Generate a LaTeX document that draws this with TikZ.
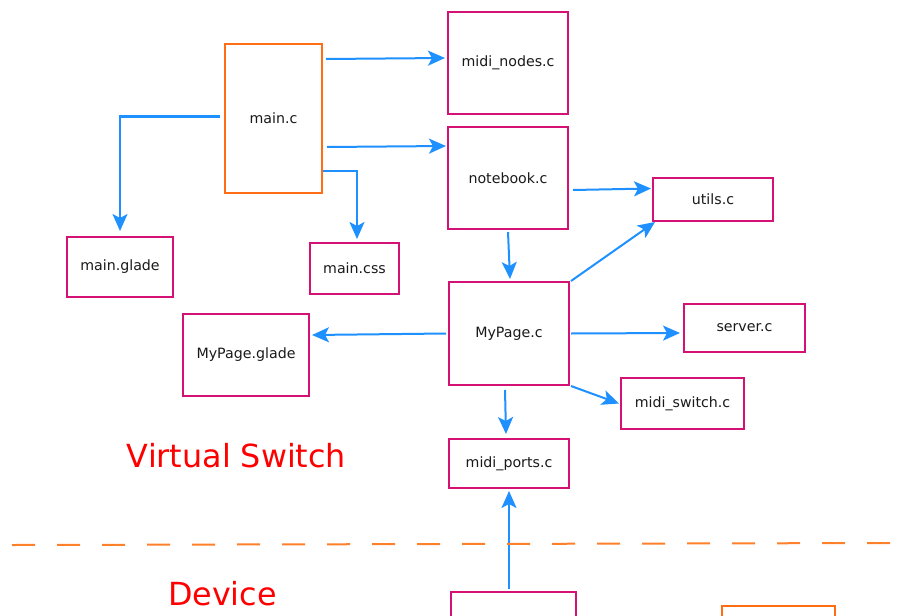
\documentclass[tikz,border=0pt]{standalone}
\usepackage{fontspec}
\setmainfont{DejaVu Sans}
\usetikzlibrary{arrows.meta, positioning, calc}
\definecolor{filepink}{RGB}{212,17,117}
\definecolor{srcorange}{RGB}{255,110,20}
\definecolor{linkblue}{RGB}{30,144,255}
\definecolor{splitorange}{RGB}{255,128,42}
\tikzset{
    file/.style={draw=filepink, line width=2pt, text=black!90,
        font=\fontsize{14.2}{17}\selectfont, inner sep=0pt},
    mainfile/.style={file, draw=srcorange},
    link/.style={draw=linkblue, line width=2pt,
        -{Stealth[length=17pt, width=15pt, inset=4pt]}},
    region/.style={text=red, font=\fontsize{31.8}{38}\selectfont, anchor=base},
    split/.style={draw=splitorange, line width=2pt, dash pattern=on 23pt off 22pt},
}

\begin{document}
\begin{tikzpicture}[x=1pt, y=-1pt]
    \clip (0, 0) rectangle (909, 615);
    % source files
    \node[mainfile, minimum width=97, minimum height=149] (main) at (273.5, 118.5) {main.c};
    \node[file, minimum width=120, minimum height=102] (midinodes) at (508, 63) {midi\_nodes.c};
    \node[file, minimum width=120, minimum height=102] (notebook) at (508, 178) {notebook.c};
    \node[file, minimum width=120, minimum height=43] (utils) at (713, 199.5) {utils.c};
    \node[file, minimum width=120, minimum height=103] (mypage) at (509, 333.5) {MyPage.c};
    \node[file, minimum width=121, minimum height=48] (server) at (744.5, 328) {server.c};
    \node[file, minimum width=123, minimum height=51] (midiswitch) at (682.5, 403.5) {midi\_switch.c};
    \node[file, minimum width=126, minimum height=82] (mypageglade) at (246, 355) {MyPage.glade};
    \node[file, minimum width=106, minimum height=60] (mainglade) at (120, 267) {main.glade};
    \node[file, minimum width=89, minimum height=51] (maincss) at (354.5, 268.5) {main.css};
    \node[file, minimum width=120, minimum height=49] (midiports) at (509, 463.5) {midi\_ports.c};
    % device side (cut off at the bottom)
    \node[file, minimum width=125, minimum height=60] (device) at (513.5, 622) {};
    \node[mainfile, minimum width=113, minimum height=60] (devmain) at (778.5, 636) {};

    % calls
    \draw[link] ([xshift=3, yshift=59.5]main.east) -- ([xshift=-2, yshift=5]midinodes.west);
    \draw[link] ([xshift=4, yshift=-28.5]main.east) -- ([xshift=-1, yshift=32]notebook.west);
    \draw[link] ([xshift=-4, yshift=2]main.west) -| ([yshift=5]mainglade.north);
    \draw[link] ([yshift=-52.5]main.east) -| ([xshift=2.5, yshift=3]maincss.north);
    \draw[link] ([yshift=-2]notebook.south) -- ([xshift=1, yshift=2]mypage.north);
    \draw[link] ([xshift=4, yshift=-12]notebook.east) -- ([xshift=-1, yshift=11]utils.west);
    \draw[link] ([xshift=1]mypage.north east) -- ([xshift=3]utils.south west);
    \draw[link] ([xshift=1]mypage.east) -- ([xshift=-3, yshift=-5]server.west);
    \draw[link] ([xshift=1]mypage.south east) -- ([xshift=-1]midiswitch.west);
    \draw[link] ([xshift=-2]mypage.west) -- ([xshift=2, yshift=20]mypageglade.east);
    \draw[link] ([xshift=-4, yshift=-4]mypage.south) -- ([xshift=-3, yshift=4]midiports.north);
    \draw[link] ([xshift=-4.5, yshift=2]device.north) -- ([yshift=-2]midiports.south);

    % boundary
    \draw[split] (12, 545) -- (895, 543);
    \node[region] (vswitch) at (236.5, 467) {Virtual Switch};
    \node[region] (dev) at (222.5, 605) {Device};
\end{tikzpicture}
\end{document}
